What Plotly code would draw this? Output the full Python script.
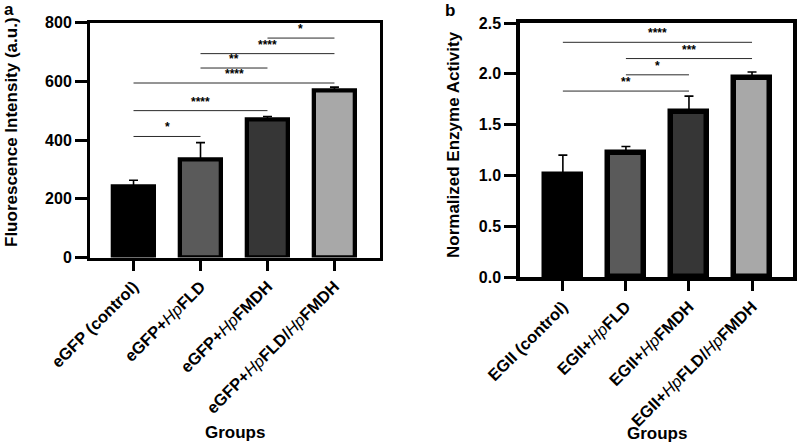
import plotly.graph_objects as go

# ---- data ----
groups_a = ["<b>eGFP (control)</b>",
            "<b>eGFP+</b><i>Hp</i><b>FLD</b>",
            "<b>eGFP+</b><i>Hp</i><b>FMDH</b>",
            "<b>eGFP+</b><i>Hp</i><b>FLD/</b><i>Hp</i><b>FMDH</b>"]
values_a = [241, 333, 469, 569]
errors_a = [22, 58, 11, 11]

groups_b = ["<b>EGII (control)</b>",
            "<b>EGII+</b><i>Hp</i><b>FLD</b>",
            "<b>EGII+</b><i>Hp</i><b>FMDH</b>",
            "<b>EGII+</b><i>Hp</i><b>FLD/</b><i>Hp</i><b>FMDH</b>"]
values_b = [1.0, 1.225, 1.625, 1.958]
errors_b = [0.2, 0.06, 0.155, 0.06]

colors = ["#000000", "#5a5a5a", "#363636", "#a8a8a8"]

# significance brackets: (from index, to index, height, label)
sig_a = [(0, 1, 412, "*"), (0, 2, 500, "****"), (0, 3, 594, "****"),
         (1, 2, 645, "**"), (1, 3, 694, "****"), (2, 3, 747, "*")]
sig_b = [(0, 2, 1.83, "**"), (1, 2, 1.99, "*"), (1, 3, 2.15, "***"),
         (0, 3, 2.31, "****")]

FONT = "Liberation Sans, Arial, sans-serif"

W, H = 797, 443


def PX(x):
    return x / W


def PY(y):
    return 1 - y / H


fig = go.Figure()

fig.add_trace(go.Bar(
    x=list(range(4)), y=values_a, width=0.61,
    marker=dict(color=colors, line=dict(color="black", width=4.3)),
    error_y=dict(type="data", symmetric=False, array=errors_a,
                 arrayminus=[0] * 4, color="black", thickness=1.6, width=4.5),
    xaxis="x", yaxis="y", showlegend=False))

fig.add_trace(go.Bar(
    x=list(range(4)), y=values_b, width=0.58,
    marker=dict(color=colors, line=dict(color="black", width=5.5)),
    error_y=dict(type="data", symmetric=False, array=errors_b,
                 arrayminus=[0] * 4, color="black", thickness=1.6, width=4.5),
    xaxis="x2", yaxis="y2", showlegend=False))

shapes = []
annotations = []
for (i, j, h, lab) in sig_a:
    shapes.append(dict(type="line", xref="x", yref="y", x0=i, x1=j, y0=h, y1=h,
                       line=dict(color="#2a2a2a", width=1)))
    annotations.append(dict(xref="x", yref="y", x=(i + j) / 2, y=h, text="<b>" + lab + "</b>",
                            showarrow=False, xanchor="center", yanchor="bottom", yshift=0,
                            font=dict(family=FONT, size=12, color="black")))
for (i, j, h, lab) in sig_b:
    shapes.append(dict(type="line", xref="x2", yref="y2", x0=i, x1=j, y0=h, y1=h,
                       line=dict(color="#2a2a2a", width=1)))
    annotations.append(dict(xref="x2", yref="y2", x=(i + j) / 2, y=h, text="<b>" + lab + "</b>",
                            showarrow=False, xanchor="center", yanchor="bottom", yshift=0,
                            font=dict(family=FONT, size=12, color="black")))


def label(x, y, text, size, angle=0):
    return dict(xref="paper", yref="paper", x=PX(x), y=PY(y), text=text,
                textangle=angle, showarrow=False, xanchor="center", yanchor="middle",
                font=dict(family=FONT, size=size, color="black"))


annotations += [
    label(11, 132, "<b>Fluorescence Intensity (a.u.)</b>", 17, -90),
    label(453, 145, "<b>Normalized Enzyme Activity</b>", 17, -90),
    label(235, 432, "<b>Groups</b>", 17),
    label(657, 433, "<b>Groups</b>", 17),
    label(9, 9, "<b>a</b>", 17),
    label(450, 11, "<b>b</b>", 17),
]

tickfont = dict(family=FONT, size=16.5, color="black")

xcommon = dict(tickmode="array", tickvals=list(range(4)), tickangle=-45,
               ticks="outside", ticklen=10, tickwidth=3, tickcolor="black",
               showline=True, linecolor="black", mirror=True, automargin=False,
               showgrid=False, zeroline=False, tickfont=tickfont)
ycommon = dict(ticks="outside", ticklen=12, tickwidth=3, tickcolor="black",
               showline=True, linecolor="black", mirror=True, automargin=False,
               showgrid=False, zeroline=False,
               tickfont=dict(family=FONT, size=16, color="black"))

fig.update_layout(
    width=W, height=H,
    margin=dict(l=0, r=0, t=0, b=0),
    paper_bgcolor="white", plot_bgcolor="white",
    bargap=0,
    xaxis=dict(domain=[PX(90), PX(380)], range=[-0.65, 3.68],
               ticktext=groups_a, anchor="y", linewidth=3, **xcommon),
    yaxis=dict(domain=[PY(257.5), PY(22.5)], range=[0, 800], dtick=200,
               tickprefix="<b>", ticksuffix="</b>", anchor="x", linewidth=3, **ycommon),
    xaxis2=dict(domain=[PX(520), PX(793)], range=[-0.68, 3.65],
                ticktext=groups_b, anchor="y2", linewidth=3.5, **xcommon),
    yaxis2=dict(domain=[PY(277), PY(23)], range=[0, 2.5], dtick=0.5,
                tickformat=".1f", tickprefix="<b>", ticksuffix="</b>",
                anchor="x2", linewidth=3.5, **ycommon),
    shapes=shapes, annotations=annotations,
)

fig.write_html("out.html", config={"displayModeBar": False},
               post_script="document.body.style.margin='0px';")
